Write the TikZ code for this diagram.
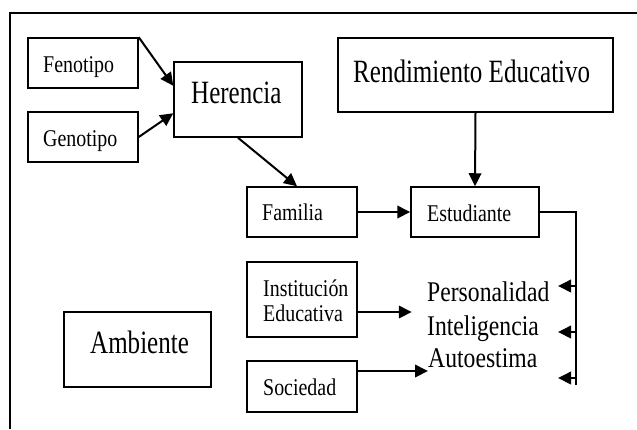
\documentclass[tikz,border=0pt]{standalone}
\usepackage{fontspec}
\setmainfont{Liberation Serif}[FakeStretch=0.83]
\newfontfamily\bigfam{Liberation Serif}[FakeStretch=0.77]
\usetikzlibrary{arrows.meta,calc}
\begin{document}
\begin{tikzpicture}[x=1pt,y=-1pt,
  box/.style={draw, line width=1.5pt, inner sep=0pt},
  txt/.style={inner sep=0pt, anchor=base west},
  small/.style={font=\fontsize{24}{28}\selectfont},
  mid/.style={font=\fontsize{28.5}{32}\selectfont},
  big/.style={font=\bigfam\fontsize{32.5}{36}\selectfont},
  conn/.style={line width=2pt, -{Triangle[length=13pt,width=12.5pt]}},
  plain/.style={line width=2pt}]
\path[use as bounding box] (0,0) rectangle (637,429);
% frame
\coordinate (fbl) at (10,429);
\coordinate (ftl) at (10,13);
\coordinate (ftr) at (637,13);
\draw[line width=2.2pt] (fbl) -- (ftl) -- (ftr);
% boxes
\node[box, minimum width=110pt, minimum height=50pt] (feno) at (83,63) {};
\node[box, minimum width=110pt, minimum height=50pt] (geno) at (83,137) {};
\node[box, minimum width=128pt, minimum height=75pt] (her) at (238,99.5) {};
\node[box, minimum width=275pt, minimum height=74pt] (rend) at (475.5,75) {};
\node[box, minimum width=110pt, minimum height=50pt] (fam) at (302,212) {};
\node[box, minimum width=128pt, minimum height=50pt] (est) at (475,212) {};
\node[box, minimum width=110pt, minimum height=75pt] (inst) at (302,299.5) {};
\node[box, minimum width=110pt, minimum height=51pt] (soc) at (302,386.5) {};
\node[box, minimum width=147pt, minimum height=75pt] (amb) at (137.5,349.5) {};
% texts
\node[txt, small] (tfeno) at (43,72) {Fenotipo};
\node[txt, small] (tgeno) at (43,146) {Genotipo};
\node[txt, big] (ther) at (191,103) {Herencia};
\node[txt, big] (trend) at (353,82) {Rendimiento Educativo};
\node[txt, small] (tfam) at (262,220) {Familia};
\node[txt, small] (test) at (427,221.5) {Estudiante};
\node[txt, small] (tinst1) at (263,296.5) {Institución};
\node[txt, small] (tinst2) at (263,321.5) {Educativa};
\node[txt, small] (tsoc) at (263,395) {Sociedad};
\node[txt, big] (tamb) at (90,353) {Ambiente};
\node[txt, mid] (pers) at (427,301.7) {Personalidad};
\node[txt, mid] (intel) at (427,335) {Inteligencia};
\node[txt, mid] (auto) at (428,367) {Autoestima};
% connectors
\draw[conn] (feno.north east) -- ($(her.north west)!0.32!(her.south west)$);
\draw[conn] (geno.east) -- ($(her.north west)!0.68!(her.south west)$);
\draw[conn] (her.south) -- ($(fam.north)+(-5,0)$);
\draw[conn] (rend.south) -- (est.north);
\draw[conn] (fam.east) -- (est.west);
\draw[conn] ($(inst.east)+(0,12.5)$) -- ($(inst.east)+(54,12.5)$);
\coordinate (autotip) at ($(auto.base west)+(0,4)$);
\draw[conn] (soc.east |- autotip) -- (autotip);
\coordinate (brk) at (576,385);
\draw[plain] (est.east) -| (brk);
\coordinate (a1) at (558,286);
\coordinate (a2) at (558,332);
\coordinate (a3) at (558,378);
\draw[conn] (brk |- a1) -- (a1);
\draw[conn] (brk |- a2) -- (a2);
\draw[conn] (brk |- a3) -- (a3);
\end{tikzpicture}
\end{document}
